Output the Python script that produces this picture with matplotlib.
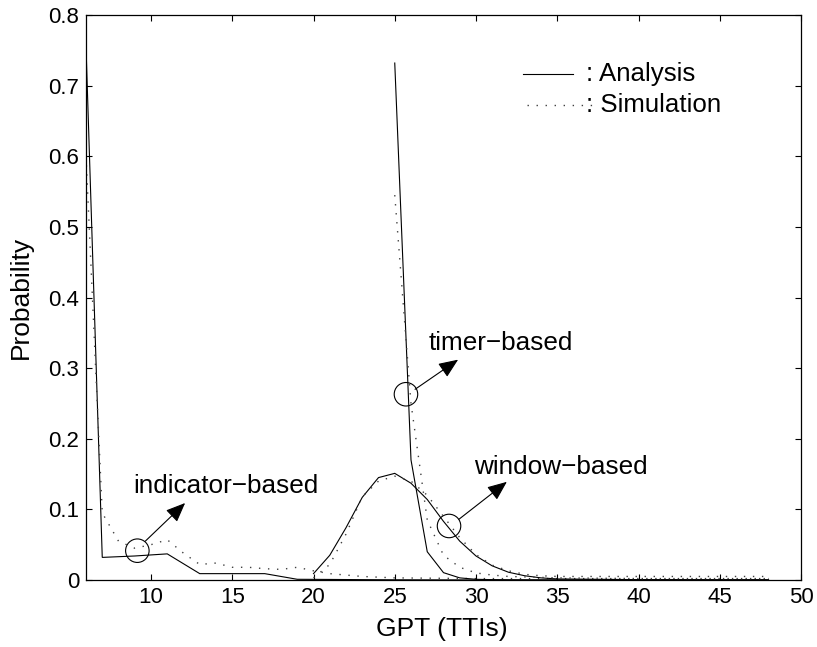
import matplotlib
matplotlib.use("Agg")
import matplotlib.pyplot as plt
from matplotlib.patches import Ellipse
from matplotlib.lines import Line2D

plt.rcParams['font.family'] = ['Liberation Sans', 'DejaVu Sans']

# ---- data ----
ind_x = [6, 7, 9, 11, 13, 15, 17, 19, 21, 23, 25, 30, 35, 40, 45, 48]
ind_ana = [0.755, 0.032, 0.034, 0.037, 0.009, 0.009, 0.009, 0.001, 0.0008,
           0.0005, 0.0003, 0.0001, 0.0, 0.0, 0.0, 0.0]
ind_sim_x = [6, 7, 8, 9, 10, 11, 12, 13, 14, 15, 16, 17, 18, 19, 20, 21, 22,
             23, 24, 25, 30, 35, 40, 45, 48]
ind_sim = [0.60, 0.095, 0.055, 0.045, 0.05, 0.057, 0.038, 0.022, 0.024, 0.018,
           0.018, 0.016, 0.015, 0.018, 0.013, 0.009, 0.007, 0.005, 0.004,
           0.003, 0.002, 0.002, 0.002, 0.002, 0.002]

win_x = [20, 21, 22, 23, 24, 25, 26, 27, 28, 29, 30, 31, 32, 33, 34, 35,
         40, 45, 48]
win_ana = [0.009, 0.035, 0.074, 0.117, 0.145, 0.151, 0.137, 0.114, 0.083,
           0.055, 0.034, 0.02, 0.011, 0.006, 0.003, 0.0015, 0.0005, 0.0002,
           0.0001]
win_sim = [0.003, 0.022, 0.065, 0.118, 0.14, 0.147, 0.14, 0.12, 0.09, 0.06,
           0.036, 0.021, 0.013, 0.008, 0.006, 0.005, 0.005, 0.005, 0.005]

tim_x = [25, 26, 27, 28, 29, 30, 31, 32, 35, 40, 45, 48]
tim_ana = [0.732, 0.17, 0.04, 0.0104, 0.003, 0.001, 0.0005, 0.0002, 0.0,
           0.0, 0.0, 0.0]
tim_sim = [0.545, 0.25, 0.085, 0.035, 0.018, 0.01, 0.007, 0.005, 0.003,
           0.002, 0.002, 0.002]

x_ticks = [10, 15, 20, 25, 30, 35, 40, 45, 50]
y_ticks = [0, 0.1, 0.2, 0.3, 0.4, 0.5, 0.6, 0.7, 0.8]
y_ticklabels = ['0', '0.1', '0.2', '0.3', '0.4', '0.5', '0.6', '0.7', '0.8']

# annotations: (label, circle centre, arrow tail, arrow tip, text centre)
annots = [
    ('indicator\u2212based', (9.16, 0.0415), (9.65, 0.055), (12.1, 0.109), (14.58, 0.133)),
    ('timer\u2212based', (25.69, 0.263), (26.25, 0.270), (28.9, 0.312), (31.53, 0.335)),
    ('window\u2212based', (28.34, 0.0765), (28.95, 0.086), (31.9, 0.139), (35.2, 0.160)),
]

# ---- figure ----
fig = plt.figure(figsize=(8.17, 6.47), dpi=100)
ax = fig.add_axes([86 / 817, 67 / 647, 715 / 817, 565 / 647])

solid = dict(color='black', lw=0.8, solid_joinstyle='miter')
dotted = dict(color='0.25', lw=1.0, linestyle=(0, (1, 5.5)))

ax.plot(ind_x, ind_ana, **solid)
ax.plot(ind_sim_x, ind_sim, **dotted)
ax.plot(win_x, win_ana, **solid)
ax.plot(win_x, win_sim, **dotted)
ax.plot(tim_x, tim_ana, **solid)
ax.plot(tim_x, tim_sim, **dotted)

ax.set_xlim(6, 50)
ax.set_ylim(0, 0.8)
ax.set_xticks(x_ticks)
ax.set_xticklabels([str(t) for t in x_ticks])
ax.set_yticks(y_ticks)
ax.set_yticklabels(y_ticklabels)
ax.tick_params(direction='in', top=True, right=True, length=4.5, width=0.8,
               labelsize=16, pad=5)
for s in ax.spines.values():
    s.set_linewidth(0.9)

ax.set_xlabel('GPT (TTIs)', fontsize=19)
ax.set_ylabel('Probability', fontsize=19)
ax.xaxis.set_label_coords(0.497, -0.066)
ax.yaxis.set_label_coords(-0.074, 0.5)

# circles + arrows + labels
pxx = 715 / 44.0   # px per x unit
pxy = 565 / 0.8    # px per y unit
diam = 23.5
for label, c, tail, tip, tc in annots:
    ax.add_patch(Ellipse(c, diam / pxx, diam / pxy, fill=False,
                         edgecolor='black', lw=0.8))
    ax.annotate('', xy=tip, xytext=tail,
                arrowprops=dict(arrowstyle='-|>,head_length=0.6,head_width=0.25',
                                mutation_scale=20, color='black', lw=0.8,
                                shrinkA=0, shrinkB=0))
    ax.text(tc[0], tc[1], label, fontsize=18.8, ha='center', va='center')

# legend (MATLAB-style)
ax.add_line(Line2D([0.611, 0.681], [0.8956, 0.8956], transform=ax.transAxes, **solid))
ax.add_line(Line2D([0.617, 0.715], [0.8407, 0.8407], transform=ax.transAxes, **dotted))
ax.text(0.700, 0.8956, ': Analysis', transform=ax.transAxes, fontsize=18.6,
        ha='left', va='center')
ax.text(0.700, 0.8407, ': Simulation', transform=ax.transAxes, fontsize=18.6,
        ha='left', va='center')

fig.savefig('out.png', dpi=100)
